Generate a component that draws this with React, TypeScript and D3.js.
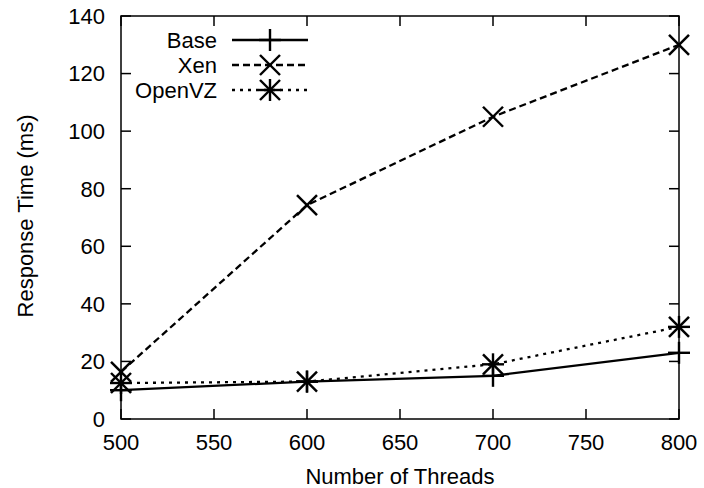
import React from "react";
import * as d3 from "d3";

const threads = [500, 600, 700, 800];
const baseValues = [10, 13, 15, 23];
const xenValues = [16.4, 74.3, 105, 130];
const openvzValues = [12.5, 13, 19, 32];
const xTicks = [500, 550, 600, 650, 700, 750, 800];
const yTicks = [0, 20, 40, 60, 80, 100, 120, 140];
const seriesNames = ["Base", "Xen", "OpenVZ"];

const W = 704;
const H = 488;
const L = 121, R = 679, T = 16, B = 419;
const FONT = "'Liberation Sans', Arial, Helvetica, sans-serif";

function Marker({ kind, x, y }: { kind: string; x: number; y: number }) {
  const s = 11;
  const c = 10;
  const st = { stroke: "#000", strokeWidth: 2.4, fill: "none" } as any;
  if (kind === "plus") {
    return (
      <g>
        <line x1={x - s} y1={y} x2={x + s} y2={y} {...st} />
        <line x1={x} y1={y - s} x2={x} y2={y + s} {...st} />
      </g>
    );
  }
  if (kind === "cross") {
    return (
      <g>
        <line x1={x - c} y1={y - c} x2={x + c} y2={y + c} {...st} />
        <line x1={x - c} y1={y + c} x2={x + c} y2={y - c} {...st} />
      </g>
    );
  }
  return (
    <g>
      <line x1={x - s} y1={y} x2={x + s} y2={y} {...st} />
      <line x1={x} y1={y - s} x2={x} y2={y + s} {...st} />
      <line x1={x - c} y1={y - c} x2={x + c} y2={y + c} {...st} />
      <line x1={x - c} y1={y + c} x2={x + c} y2={y - c} {...st} />
    </g>
  );
}

export default function App() {
  const x = d3.scaleLinear().domain([500, 800]).range([L, R]);
  const y = d3.scaleLinear().domain([0, 140]).range([B, T]);
  const line = d3
    .line<number>()
    .x((_, i) => x(threads[i]))
    .y((d) => y(d));

  const series = [
    { name: seriesNames[0], values: baseValues, dash: undefined, marker: "plus" },
    { name: seriesNames[1], values: xenValues, dash: "7,4", marker: "cross" },
    { name: seriesNames[2], values: openvzValues, dash: "3,5", marker: "star" },
  ];
  const legendY = [40, 65, 90];
  const tickLen = 10;

  return (
    <svg
      width={W}
      height={H}
      style={{ position: "fixed", left: 0, top: 0, background: "#fff" }}
      fontFamily={FONT}
    >
      <rect x={0} y={0} width={W} height={H} fill="#fff" />
      {xTicks.map((t) => (
        <g key={"xt" + t}>
          <line x1={x(t)} x2={x(t)} y1={B} y2={B - tickLen} stroke="#000" strokeWidth={1.5} />
          <line x1={x(t)} x2={x(t)} y1={T} y2={T + tickLen} stroke="#000" strokeWidth={1.5} />
          <text x={x(t)} y={450} textAnchor="middle" fontSize={22} fill="#000">
            {t}
          </text>
        </g>
      ))}
      {yTicks.map((t) => (
        <g key={"yt" + t}>
          <line x1={L} x2={L + tickLen} y1={y(t)} y2={y(t)} stroke="#000" strokeWidth={1.5} />
          <line x1={R} x2={R - tickLen} y1={y(t)} y2={y(t)} stroke="#000" strokeWidth={1.5} />
          <text x={105} y={y(t)} dy="0.36em" textAnchor="end" fontSize={22} fill="#000">
            {t}
          </text>
        </g>
      ))}
      <rect x={L} y={T} width={R - L} height={B - T} fill="none" stroke="#000" strokeWidth={1.5} />
      <text x={(L + R) / 2} y={484} textAnchor="middle" fontSize={22} fill="#000">
        Number of Threads
      </text>
      <text
        transform={`translate(33,216) rotate(-90)`}
        textAnchor="middle"
        fontSize={22}
        fill="#000"
      >
        Response Time (ms)
      </text>
      {series.map((s) => (
        <g key={s.name}>
          <path
            d={line(s.values) || ""}
            fill="none"
            stroke="#000"
            strokeWidth={2.3}
            strokeDasharray={s.dash}
          />
          {s.values.map((v, i) => (
            <Marker key={i} kind={s.marker} x={x(threads[i])} y={y(v)} />
          ))}
        </g>
      ))}
      {series.map((s, i) => (
        <g key={"lg" + s.name}>
          <text x={217} y={legendY[i]} dy="0.36em" textAnchor="end" fontSize={22} fill="#000">
            {s.name}
          </text>
          <line
            x1={232}
            x2={308}
            y1={legendY[i]}
            y2={legendY[i]}
            stroke="#000"
            strokeWidth={2.3}
            strokeDasharray={s.dash}
          />
          <Marker kind={s.marker} x={270} y={legendY[i]} />
        </g>
      ))}
    </svg>
  );
}
